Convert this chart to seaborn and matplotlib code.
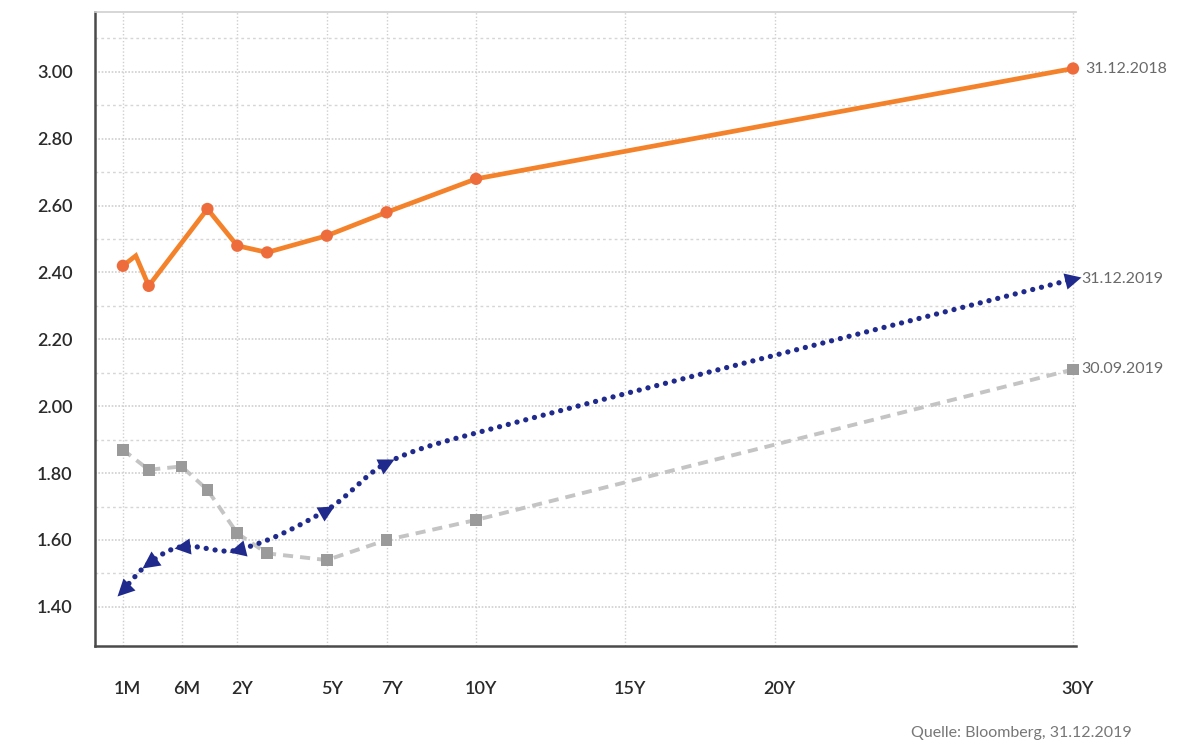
import numpy as np
import pandas as pd
import matplotlib
matplotlib.use("Agg")
import matplotlib.pyplot as plt
import seaborn as sns
from matplotlib.markers import MarkerStyle
from matplotlib.transforms import Affine2D, ScaledTranslation
from matplotlib.ticker import FixedLocator

# ---------------------------------------------------------------- data
TENOR_YEARS = {"1M": 1 / 12, "2M": 2 / 12, "3M": 0.25, "6M": 0.5, "1Y": 1.0,
               "2Y": 2.0, "3Y": 3.0, "5Y": 5.0, "7Y": 7.0, "10Y": 10.0,
               "15Y": 15.0, "20Y": 20.0, "30Y": 30.0}

tick_tenors = ["1M", "6M", "2Y", "5Y", "7Y", "10Y", "15Y", "20Y", "30Y"]

tenors_2018 = ["1M", "2M", "3M", "1Y", "2Y", "3Y", "5Y", "7Y", "10Y", "30Y"]
yields_2018 = [2.42, 2.45, 2.36, 2.59, 2.48, 2.46, 2.51, 2.58, 2.68, 3.01]

tenors_sep19 = ["1M", "3M", "6M", "1Y", "2Y", "3Y", "5Y", "7Y", "10Y", "30Y"]
yields_sep19 = [1.87, 1.81, 1.82, 1.75, 1.62, 1.56, 1.54, 1.60, 1.66, 2.11]

tenors_2019 = ["1M", "3M", "6M", "2Y", "5Y", "7Y", "10Y", "30Y"]
yields_2019 = [1.45, 1.53, 1.58, 1.57, 1.69, 1.83, 1.92, 2.38]

y_ticks = [1.40, 1.60, 1.80, 2.00, 2.20, 2.40, 2.60, 2.80, 3.00]
y_minor = [1.50, 1.70, 1.90, 2.10, 2.30, 2.50, 2.70, 2.90, 3.10]

label_2018 = "31.12.2018"
label_2019 = "31.12.2019"
label_sep19 = "30.09.2019"
source_note = "Quelle: Bloomberg, 31.12.2019"

# ---------------------------------------------------------------- style
sns.set_style("white")
plt.rcParams["font.family"] = ["Lato", "DejaVu Sans"]

ORANGE = "#F4822B"
ORANGE_DOT = "#EE6B3C"
NAVY = "#1F2A8C"
GREY_LINE = "#C4C4C4"
GREY_MARK = "#9A9A9A"
GRID = "#CFCFCF"
INK = "#2A2A2A"
SOFT = "#6A6A6A"

# Maturity axis: the money-market end is stretched, beyond 2Y it is linear.
_anchor_years = np.array([-0.5, 1 / 12, 0.25, 0.5, 1.0, 2.0, 40.0])
_anchor_units = np.array([-91.0, 0.0, 26.0, 59.0, 85.0, 115.0, 1255.0])


def _fwd(x):
    return np.interp(x, _anchor_years, _anchor_units)


def _inv(u):
    return np.interp(u, _anchor_units, _anchor_years)


W, H = 1201, 744
fig = plt.figure(figsize=(W / 100, H / 100), dpi=100)
ax = fig.add_axes([95 / W, (H - 646) / H, (1076 - 95) / W, (646 - 12) / H])
ax.set_xscale("function", functions=(_fwd, _inv))
ax.set_xlim(_inv(-28.0), _inv(958.0))
ax.set_ylim(1.283, 3.179)


def frame(tenors, values):
    return pd.DataFrame({"tenor": tenors,
                         "years": [TENOR_YEARS[t] for t in tenors],
                         "yield": values})


df18 = frame(tenors_2018, yields_2018)
dfs9 = frame(tenors_sep19, yields_sep19)
df19 = frame(tenors_2019, yields_2019)

# ---------------------------------------------------------------- 30.09.2019 (grey, dashed)
sns.lineplot(data=dfs9, x="years", y="yield", ax=ax, color=GREY_LINE, lw=2.8,
             ls=(0, (2.6, 1.8)), dash_capstyle="butt", sort=False,
             estimator=None, zorder=3)
sns.scatterplot(data=dfs9, x="years", y="yield", ax=ax, marker="s", s=72,
                color=GREY_MARK, edgecolor="none", zorder=4, clip_on=False)

# ---------------------------------------------------------------- 31.12.2018 (orange)
sns.lineplot(data=df18, x="years", y="yield", ax=ax, color=ORANGE, lw=3.4,
             sort=False, estimator=None, zorder=5, solid_joinstyle="miter")
# the 2M quote is drawn as a plain vertex
dots18 = df18[df18["tenor"] != "2M"]
sns.scatterplot(data=dots18, x="years", y="yield", ax=ax, marker="o", s=78,
                color=ORANGE_DOT, edgecolor="none", zorder=6, clip_on=False)

# ---------------------------------------------------------------- 31.12.2019 (navy, smoothed, arrow heads)
pts = ax.transData.transform(np.column_stack([df19["years"], df19["yield"]]))
n = len(pts)
tang = np.zeros_like(pts)
for i in range(n):
    a = pts[max(i - 1, 0)]
    b = pts[min(i + 1, n - 1)]
    d = b - a
    tang[i] = d / np.hypot(*d)
curve = []
for i in range(n - 1):
    p0, p3 = pts[i], pts[i + 1]
    L = np.hypot(*(p3 - p0))
    c1 = p0 + tang[i] * L / 3
    c2 = p3 - tang[i + 1] * L / 3
    t = np.linspace(0, 1, 40, endpoint=False)[:, None]
    curve.append((1 - t) ** 3 * p0 + 3 * (1 - t) ** 2 * t * c1
                  + 3 * (1 - t) * t ** 2 * c2 + t ** 3 * p3)
curve.append(pts[-1][None, :])
curve = ax.transData.inverted().transform(np.vstack(curve))
smooth19 = pd.DataFrame({"years": curve[:, 0], "yield": curve[:, 1]})

sns.lineplot(data=smooth19, x="years", y="yield", ax=ax, color=NAVY, lw=3.8,
             ls=(0, (0.01, 1.7)), dash_capstyle="round", sort=False,
             estimator=None, zorder=7)

# arrow heads point outwards: to the left up to 2Y, to the right beyond
for i, row in df19.iterrows():
    if row["tenor"] == "10Y":
        continue
    ang = np.degrees(np.arctan2(tang[i][1], tang[i][0]))
    if row["years"] <= 2.0:
        ang += 180.0
    mk = MarkerStyle(">", transform=Affine2D().rotate_deg(ang))
    ax.plot([row["years"]], [row["yield"]], marker=mk, ms=12, color=NAVY,
            mec="none", ls="none", zorder=8, clip_on=False)

# ---------------------------------------------------------------- axes, grid, ticks
ax.xaxis.set_major_locator(FixedLocator([TENOR_YEARS[t] for t in tick_tenors]))
ax.set_xticklabels(tick_tenors)
ax.yaxis.set_major_locator(FixedLocator(y_ticks))
ax.yaxis.set_minor_locator(FixedLocator(y_minor))
ax.set_yticklabels([f"{v:.2f}" for v in y_ticks])
ax.set_xlabel("")
ax.set_ylabel("")

ax.grid(axis="x", which="major", color=GRID, lw=1.0, ls=(0, (1.0, 1.5)))
ax.grid(axis="y", which="major", color=GRID, lw=1.2, ls=(0, (1.0, 1.0)))
ax.grid(axis="y", which="minor", color="#D6D6D6", lw=1.0, ls=(0, (2.0, 2.2)))
ax.set_axisbelow(True)

for side in ("left", "bottom"):
    ax.spines[side].set_color("#4A4A4A")
    ax.spines[side].set_linewidth(1.8)
ax.spines["right"].set_visible(False)
ax.spines["top"].set_color(GRID)
ax.spines["top"].set_linewidth(1.2)
ax.spines["top"].set_linestyle((0, (1.0, 1.0)))

ax.tick_params(axis="both", which="both", length=0)
ax.tick_params(axis="x", pad=25, labelsize=13, labelcolor=INK)
ax.tick_params(axis="y", pad=16, labelsize=13, labelcolor=INK)
shift = ScaledTranslation(5 / 100, 0, fig.dpi_scale_trans)
for lab in ax.get_xticklabels() + ax.get_yticklabels():
    lab.set_fontweight("semibold")
for lab in ax.get_xticklabels():
    lab.set_transform(lab.get_transform() + shift)

# ---------------------------------------------------------------- end labels
end_x = TENOR_YEARS["30Y"]
for lab, val, dx in ((label_2018, yields_2018[-1], 9),
                     (label_2019, yields_2019[-1], 6),
                     (label_sep19, yields_sep19[-1], 6)):
    ax.annotate(lab, xy=(end_x, val), xytext=(dx, 0), textcoords="offset points",
                ha="left", va="center", fontsize=11.5, color=SOFT,
                annotation_clip=False)

fig.text(1132 / W, 1 - 733 / H, source_note, ha="right", va="center",
         fontsize=11.5, color="#777777")

fig.savefig("out.png", dpi=100, facecolor="white")
